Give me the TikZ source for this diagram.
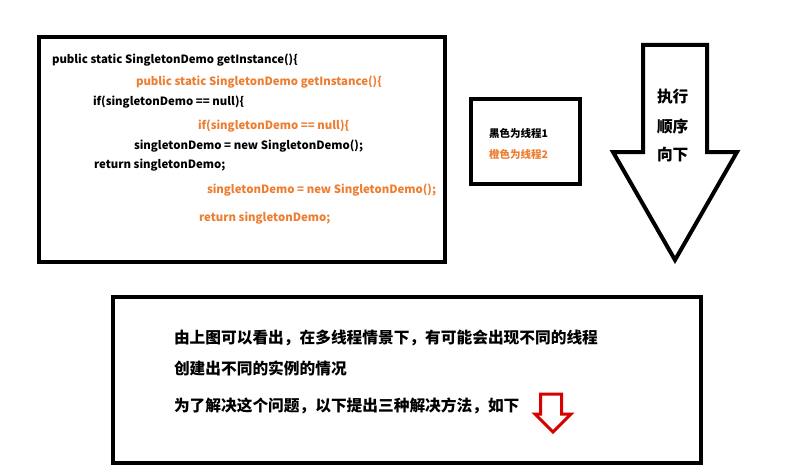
\documentclass[tikz,border=0pt]{standalone}
\usepackage{fontspec}
\setmainfont{Noto Sans CJK SC}
\usetikzlibrary{positioning}
\definecolor{thread2}{RGB}{237,125,49}

\begin{document}
\begin{tikzpicture} [x = 1pt, y = -1pt, line width = 4pt, line join = miter,
  code/.style = {anchor = west, inner sep = 0pt, font = \fontsize{11.4}{13}\selectfont\bfseries},
  codeb/.style = {code, thread2},
  note/.style = {anchor = west, inner sep = 0pt, font = \fontsize{15.7}{18}\selectfont\bfseries}]

\useasboundingbox (0,0) rectangle (800,476);

% code box
\node [draw, minimum width = 406pt, minimum height = 225pt, anchor = north west] (codebox) at (37,35) {};

\node [code] (l1) at (50,60) {public static SingletonDemo getInstance()\{};
\node [codeb] (r1) at (134,82) {public static SingletonDemo getInstance()\{};
\node [code] (l2) at (91,102) {if(singletonDemo == null)\{};
\node [codeb] (r2) at (196,126) {if(singletonDemo == null)\{};
\node [code] (l3) at (132,146) {singletonDemo = new SingletonDemo();};
\node [code] (l4) at (92,165) {return singletonDemo;};
\node [codeb] (r3) at (205,190) {singletonDemo = new SingletonDemo();};
\node [codeb] (r4) at (197,218) {return singletonDemo;};

% legend
\node [draw, minimum width = 109pt, minimum height = 85pt, anchor = north west] (legend) at (469,97) {};
\node [code, font = \fontsize{10.5}{12}\selectfont\bfseries] (key1) at (487,133) {黑色为线程1};
\node [code, font = \fontsize{10.5}{12}\selectfont\bfseries, thread2] (key2) at (487,154) {橙色为线程2};

% big down arrow
\draw (643,45) -- (707,45) -- (707,152) -- (737,152) -- (675,260) -- (613,152) -- (643,152) -- cycle;
\node [note] (order1) at (655,97) {执行};
\node [note] (order2) at (655,126) {顺序};
\node [note] (order3) at (655,155) {向下};

% conclusion box
\node [draw, minimum width = 588pt, minimum height = 166pt, anchor = north west] (summary) at (111,295) {};
\node [note] (s1) at (172,338) {由上图可以看出，在多线程情景下，有可能会出现不同的线程};
\node [note] (s2) at (172,368) {创建出不同的实例的情况};
\node [note] (s3) at (172,406) {为了解决这个问题，以下提出三种解决方法，如下};

% small red arrow
\draw [red!85!black, line width = 3pt] (540.5,394) -- (561.5,394) -- (561.5,414) -- (571,414) -- (553,432) -- (535,414) -- (540.5,414) -- cycle;

\end{tikzpicture}
\end{document}
